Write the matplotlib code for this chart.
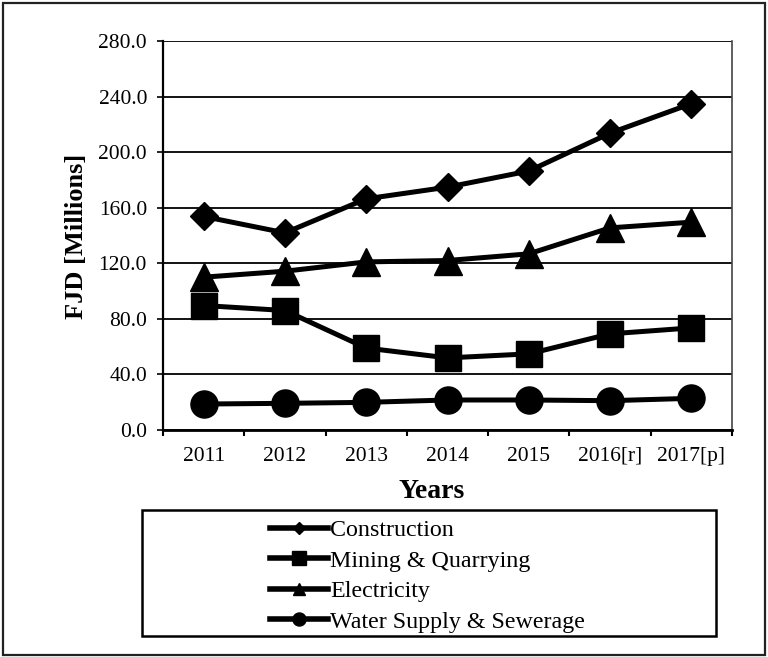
import matplotlib
matplotlib.use('Agg')
import matplotlib.pyplot as plt
from matplotlib.lines import Line2D
from matplotlib.patches import Rectangle

years = ['2011', '2012', '2013', '2014', '2015', '2016[r]', '2017[p]']
construction = [153.7, 141.9, 166.4, 174.8, 186.4, 213.7, 234.9]
mining = [89.6, 86.0, 59.0, 51.9, 54.8, 69.2, 73.5]
electricity = [110.0, 114.3, 121.0, 122.0, 126.8, 145.5, 149.6]
water = [18.7, 19.2, 19.9, 21.6, 21.6, 21.1, 22.8]
y_ticks = [0, 40, 80, 120, 160, 200, 240, 280]

plt.rcParams['font.family'] = ['Liberation Serif', 'DejaVu Serif']

W, H = 768, 657
fig = plt.figure(figsize=(W / 100, H / 100), dpi=100)
ax = fig.add_axes([163 / W, 1 - 430 / H, (732 - 163) / W, (430 - 41) / H])

x = list(range(len(years)))
series = [
    ('Construction', construction, 'D', 14.5, 6.5),
    ('Mining & Quarrying', mining, 's', 19, 9.8),
    ('Electricity', electricity, '^', 19.5, 9.2),
    ('Water Supply & Sewerage', water, 'o', 19.5, 9.4),
]
handles = []
for name, vals, mk, ms, lms in series:
    ax.plot(x, vals, color='black', lw=3.6, marker=mk, ms=ms,
            mec='black', mfc='black', zorder=3, clip_on=False)
    handles.append(Line2D([], [], color='black', lw=4, marker=mk, ms=lms,
                          mec='black', mfc='black'))

ax.set_xlim(-0.5, len(years) - 0.5)
ax.set_ylim(0, 280)
ax.set_yticks(y_ticks)
ax.set_yticklabels(['%.1f' % v for v in y_ticks])
ax.yaxis.grid(True, color='black', lw=1.3)
ax.set_axisbelow(True)

# category boundaries get tick marks, labels sit in the middle
ax.set_xticks([i - 0.5 for i in range(len(years) + 1)])
ax.set_xticklabels([])
ax.set_xticks(x, minor=True)
ax.set_xticklabels(years, minor=True)
ax.tick_params(axis='x', which='major', length=4, width=1.5, direction='out')
ax.tick_params(axis='x', which='minor', length=0, pad=12, labelsize=15.5)
ax.tick_params(axis='y', length=4.5, width=1.2, pad=7, labelsize=15.5)

ax.spines['left'].set_linewidth(1.6)
ax.spines['bottom'].set_linewidth(2)
ax.spines['top'].set_visible(False)
ax.spines['right'].set_color('#444444')
ax.spines['right'].set_linewidth(1.2)

fig.text(77 / W, 1 - 236 / H, 'FJD [Millions]', rotation=90, ha='center',
         va='center', fontsize=19, fontweight='bold')
fig.text(432 / W, 1 - 492 / H, 'Years', ha='center', va='center',
         fontsize=20, fontweight='bold')

fig.legend(handles, [s[0] for s in series], loc='center left',
           bbox_to_anchor=(270 / W, 1 - 576 / H), frameon=False,
           fontsize=17.3, handlelength=2.4, handletextpad=0.1,
           labelspacing=0.36, borderpad=0, borderaxespad=0)

fig.patches.append(Rectangle((142 / W, 1 - 636 / H), (716 - 142) / W, (636 - 510) / H,
                             transform=fig.transFigure, fill=False, ec='black', lw=1.8))
fig.patches.append(Rectangle((3 / W, 1 - 655 / H), (765 - 3) / W, (655 - 3) / H,
                             transform=fig.transFigure, fill=False, ec='#222222', lw=1.6))

fig.savefig('out.png', dpi=100)
